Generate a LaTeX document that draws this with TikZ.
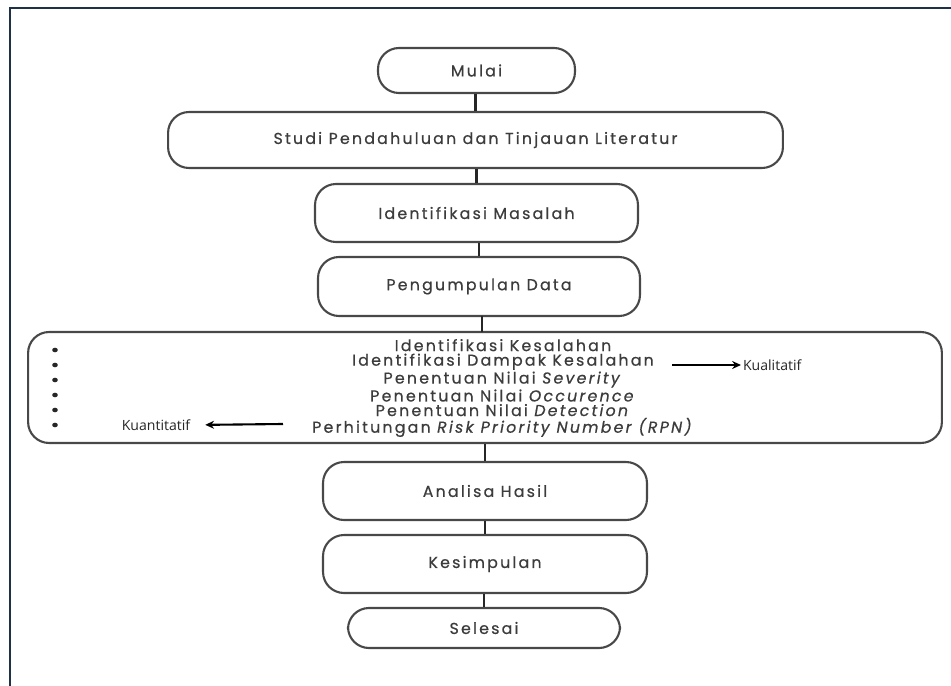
\documentclass[tikz,border=0pt]{standalone}
\usepackage{fontspec}
\usepackage{xcolor}
\usepackage{tikz}
\usetikzlibrary{shapes,arrows,positioning,calc,arrows.meta}
\newfontfamily\boxfont[LetterSpace=14,FakeBold=0.6]{Poppins}
\newfontfamily\notefont{Open Sans}
\definecolor{framenavy}{HTML}{1F3147}
\definecolor{boxline}{HTML}{484848}
\definecolor{boxtext}{HTML}{3C3C3C}

\begin{document}
\begin{tikzpicture}[x=0.02cm, y=-0.02cm,
    box/.style={draw=boxline, line width=1.2pt, rounded corners=0.42cm, text=boxtext,
        font=\boxfont\fontsize{9}{8.3}\selectfont, align=center, inner sep=0pt},
    link/.style={line width=1.7pt, draw=black!85},
    note/.style={font=\notefont\fontsize{8}{9}\selectfont, text=black!85, inner sep=1pt},
    pointer/.style={line width=1.2pt, -{Stealth[length=5pt,width=4.5pt]}}]
    % Canvas and frame
    \useasboundingbox (0,0) rectangle (951,686);
    \draw[framenavy, line width=1.7pt] (10,686) -- (10,8) -- (951,8);

    % Boxes
    \node[box, minimum width=3.94cm, minimum height=0.9cm] (mulai) at (476.5,70.5) {Mulai};
    \node[box, minimum width=12.3cm, minimum height=1.12cm] (studi) at (475.5,140) {Studi Pendahuluan dan Tinjauan Literatur};
    \node[box, minimum width=6.46cm, minimum height=1.16cm] (masalah) at (476.5,213) {Identifikasi Masalah};
    \node[box, minimum width=6.44cm, minimum height=1.18cm] (data) at (479,286.5) {Pengumpulan Data};
    \node[box, minimum width=18.28cm, minimum height=2.22cm] (fmea) at (485,387.5) {};
    \node[box, draw=none, text=boxtext] (langkah) at (503,388) {Identifikasi Kesalahan\\
        Identifikasi Dampak Kesalahan\\
        Penentuan Nilai \textit{Severity}\\
        Penentuan Nilai \textit{Occurence}\\
        Penentuan Nilai \textit{Detection}\\
        Perhitungan \textit{Risk Priority Number (RPN)}};
    \node[box, minimum width=6.48cm, minimum height=1.16cm] (analisa) at (485,491) {Analisa Hasil};
    \node[box, minimum width=6.48cm, minimum height=1.16cm] (simpulan) at (485,564) {Kesimpulan};
    \node[box, minimum width=5.44cm, minimum height=0.8cm] (selesai) at (484,628) {Selesai};

    % Bullets
    \foreach \i in {0,...,5} \fill[black!85] (55,350+15*\i) ellipse (2.8 and 2.3);

    % Links
    \draw[link] (studi.north) -- (studi.north |- mulai.south);
    \draw[link] (masalah.north) -- (masalah.north |- studi.south);
    \draw[link] (data.north) -- (data.north |- masalah.south);
    \draw[link] (482,332) -- (482,316);
    \draw[link] (analisa.north) -- (analisa.north |- fmea.south);
    \draw[link] (simpulan.north) -- (simpulan.north |- analisa.south);
    \draw[link] (selesai.north) -- (selesai.north |- simpulan.south);

    % Labels
    \node[note, anchor=west] (kualitatif) at (741,365) {Kualitatif};
    \node[note] (kuantitatif) at (156,425) {Kuantitatif};
    \coordinate (kualstart) at (672,365);
    \coordinate (kuanstart) at (283,424);
    \draw[pointer] (kualstart) -- (kualitatif.west);
    \draw[pointer, shorten >=0.26cm] (kuanstart) -- (kuantitatif.east);
\end{tikzpicture}
\end{document}
